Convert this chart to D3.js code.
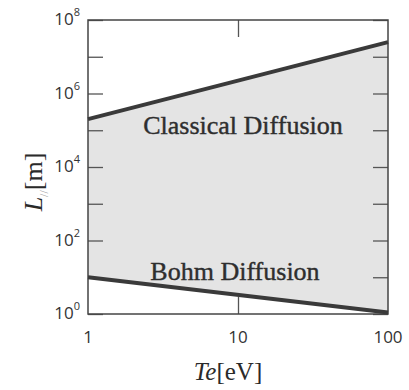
<!DOCTYPE html>
<html>
<head>
<meta charset="utf-8">
<script src="https://cdn.jsdelivr.net/npm/d3@7"></script>
<style>
  body { margin: 0; background: #fff; }
  svg { display: block; }
</style>
</head>
<body>
<svg id="chart" width="409" height="390"></svg>
<script>
// data
const temps = [1, 100];            // Te [eV]
const classical = [2.0e5, 2.5e7];  // L// [m]
const bohm = [10, 1.1];
const yTickExps = [0, 1, 2, 3, 4, 5, 6, 7, 8];
const yLabelExps = [0, 2, 4, 6, 8];
const xTickValues = [10];
const xLabels = [1, 10, 100];

const margin = {left: 88, top: 20, right: 21, bottom: 76};
const width = 409 - margin.left - margin.right;
const height = 390 - margin.top - margin.bottom;

const svg = d3.select("#chart");
const g = svg.append("g").attr("transform", `translate(${margin.left},${margin.top})`);

const x = d3.scaleLog().domain([1, 100]).range([0, width]);
const y = d3.scaleLog().domain([1, 1e8]).range([height, 0]);

const rows = temps.map((t, i) => ({t, hi: classical[i], lo: bohm[i]}));

// shaded region between the two lines
g.append("path")
  .datum(rows)
  .attr("fill", "#e4e4e4")
  .attr("d", d3.area()
    .x(d => x(d.t))
    .y0(d => y(d.lo))
    .y1(d => y(d.hi)));

// inward ticks
const tickColor = "#555";
const yTicks = yTickExps.map(e => Math.pow(10, e));
g.append("g")
  .call(d3.axisLeft(y).tickValues(yTicks).tickSizeInner(-15).tickSizeOuter(0).tickFormat(""));
g.append("g")
  .attr("transform", `translate(${width},0)`)
  .call(d3.axisRight(y).tickValues(yTicks).tickSizeInner(-15).tickSizeOuter(0).tickFormat(""));
g.append("g")
  .attr("transform", `translate(0,${height})`)
  .call(d3.axisBottom(x).tickValues(xTickValues).tickSizeInner(-17).tickSizeOuter(0).tickFormat(""));
g.append("g")
  .call(d3.axisTop(x).tickValues(xTickValues).tickSizeInner(-17).tickSizeOuter(0).tickFormat(""));
g.selectAll(".domain").remove();
g.selectAll(".tick line").attr("stroke", tickColor).attr("stroke-width", 1.3);

// frame
g.append("rect")
  .attr("width", width).attr("height", height)
  .attr("fill", "none").attr("stroke", "#444").attr("stroke-width", 1.5);

// the two lines
const line = key => d3.line().x(d => x(d.t)).y(d => y(d[key]));
g.append("path").datum(rows).attr("fill", "none").attr("stroke", "#3a3a3a")
  .attr("stroke-width", 4).attr("d", line("hi"));
g.append("path").datum(rows).attr("fill", "none").attr("stroke", "#3a3a3a")
  .attr("stroke-width", 4).attr("d", line("lo"));

// tick labels
const labelFont = "'Open Sans', 'Noto Sans', sans-serif";
yLabelExps.forEach(e => {
  const t = g.append("text")
    .attr("x", -8).attr("y", y(Math.pow(10, e)) + 5)
    .attr("text-anchor", "end")
    .attr("font-family", labelFont).attr("font-size", 17).attr("fill", "#333");
  t.append("tspan").text("10");
  t.append("tspan").attr("font-size", 11).attr("dy", -9).text(e);
});
xLabels.forEach(v => {
  g.append("text")
    .attr("x", x(v)).attr("y", height + 29)
    .attr("text-anchor", "middle")
    .attr("font-family", labelFont).attr("font-size", 17).attr("fill", "#333")
    .text(v);
});

// region labels
const serif = "'Liberation Serif', 'DejaVu Serif', serif";
g.append("text")
  .attr("x", x(10) + 5).attr("y", 114)
  .attr("text-anchor", "middle")
  .attr("font-family", serif).attr("font-size", 26).attr("fill", "#2e2e2e")
  .attr("stroke", "#2e2e2e").attr("stroke-width", 0.4)
  .text("Classical Diffusion");
g.append("text")
  .attr("x", x(10) - 3).attr("y", 260)
  .attr("text-anchor", "middle")
  .attr("font-family", serif).attr("font-size", 26).attr("fill", "#2e2e2e")
  .attr("stroke", "#2e2e2e").attr("stroke-width", 0.4)
  .text("Bohm Diffusion");

// axis titles
const xt = svg.append("text")
  .attr("x", 228).attr("y", 380)
  .attr("text-anchor", "middle")
  .attr("font-family", serif).attr("font-size", 25).attr("fill", "#2a2a2a");
xt.append("tspan").attr("font-style", "italic").text("Te");
xt.append("tspan").text("[eV]");

const yt = svg.append("text")
  .attr("transform", `translate(42,182) rotate(-90)`)
  .attr("text-anchor", "middle")
  .attr("font-family", serif).attr("font-size", 26).attr("fill", "#2a2a2a");
yt.append("tspan").attr("font-style", "italic").text("L");
yt.append("tspan").attr("font-size", 12).attr("dy", 6).attr("fill", "#999").text("//");
yt.append("tspan").attr("dy", -6).text("[m]");
</script>
</body>
</html>
